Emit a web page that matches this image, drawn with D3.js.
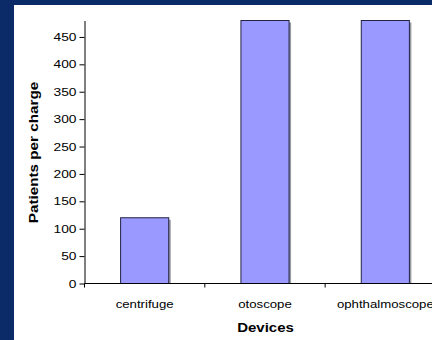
<!DOCTYPE html>
<html>
<head>
<meta charset="utf-8">
<script src="https://cdn.jsdelivr.net/npm/d3@7/dist/d3.min.js"></script>
<style>
  html, body { margin: 0; padding: 0; background: #0b2a68; }
  svg { display: block; }
  text { font-family: "Liberation Sans", Arial, sans-serif; fill: #000; }
</style>
</head>
<body>
<svg id="chart" width="432" height="340"></svg>
<script>
// Patients served per battery charge, by device
const categories = ["centrifuge", "otoscope", "ophthalmoscope"];
const patientsPerCharge = [120, 480, 480];
const yTicks = [0, 50, 100, 150, 200, 250, 300, 350, 400, 450];

const svg = d3.select("#chart");

// slide background and white chart panel
svg.append("rect").attr("width", 432).attr("height", 340).attr("fill", "#0b2a68");
svg.append("rect").attr("x", 14).attr("y", 5).attr("width", 418).attr("height", 335).attr("fill", "#ffffff");

const x = d3.scaleBand().domain(categories).range([84.5, 445.5]).padding(0);
const y = d3.scaleLinear().domain([0, 480]).range([283.5, 20.5]);

// widen glyphs slightly, like the original office-style rendering
function stretch(sel, k) {
  sel.each(function () {
    const w = this.getComputedTextLength();
    d3.select(this).attr("textLength", w * k).attr("lengthAdjust", "spacingAndGlyphs");
  });
}

// bars with a soft grey drop shadow on the right
const barW = x.bandwidth() * 0.4;
const bars = svg.append("g");
bars.selectAll("rect.shadow")
  .data(categories)
  .join("rect")
  .attr("class", "shadow")
  .attr("x", d => x(d) + (x.bandwidth() - barW) / 2 + 2)
  .attr("y", (d, i) => y(patientsPerCharge[i]) + 2)
  .attr("width", barW)
  .attr("height", (d, i) => y(0) - y(patientsPerCharge[i]) - 2)
  .attr("fill", "#9a9aa6");
bars.selectAll("rect.bar")
  .data(categories)
  .join("rect")
  .attr("class", "bar")
  .attr("x", d => x(d) + (x.bandwidth() - barW) / 2)
  .attr("y", (d, i) => y(patientsPerCharge[i]))
  .attr("width", barW)
  .attr("height", (d, i) => y(0) - y(patientsPerCharge[i]))
  .attr("fill", "#9999ff")
  .attr("stroke", "#222244")
  .attr("stroke-width", 1);

// y axis
const yAxis = svg.append("g")
  .attr("transform", "translate(84.5,0)")
  .call(d3.axisLeft(y).tickValues(yTicks).tickSize(5).tickPadding(3).tickSizeOuter(0));
yAxis.select(".domain").attr("stroke", "#000");
yAxis.selectAll(".tick line").attr("stroke", "#000");
yAxis.selectAll(".tick text")
  .style("font-size", "11px")
  .style("font-family", "Liberation Sans, Arial, sans-serif")
  .attr("fill", "#000")
  .call(stretch, 1.25);

// x axis: ticks mark the category boundaries
const xAxisG = svg.append("g").attr("transform", `translate(0,${y(0)})`);
xAxisG.append("line")
  .attr("x1", x.range()[0]).attr("x2", 432)
  .attr("stroke", "#000");
const bounds = categories.map(d => x(d));
xAxisG.selectAll("line.tick")
  .data(bounds)
  .join("line")
  .attr("class", "tick")
  .attr("x1", d => d).attr("x2", d => d)
  .attr("y1", 0).attr("y2", 4)
  .attr("stroke", "#000");
xAxisG.selectAll("text.cat")
  .data(categories)
  .join("text")
  .attr("class", "cat")
  .attr("x", d => x(d) + x.bandwidth() / 2)
  .attr("y", 24)
  .attr("text-anchor", "middle")
  .style("font-size", "11px")
  .text(d => d)
  .call(stretch, 1.2);

// axis titles
svg.append("text")
  .attr("x", 265.5).attr("y", 332)
  .attr("text-anchor", "middle")
  .style("font-size", "12.5px").style("font-weight", "bold")
  .text("Devices")
  .call(stretch, 1.2);

svg.append("text")
  .attr("transform", "translate(38,152.5) rotate(-90)")
  .attr("text-anchor", "middle")
  .style("font-size", "12.5px").style("font-weight", "bold")
  .text("Patients per charge")
  .call(stretch, 1.22);
</script>
</body>
</html>
